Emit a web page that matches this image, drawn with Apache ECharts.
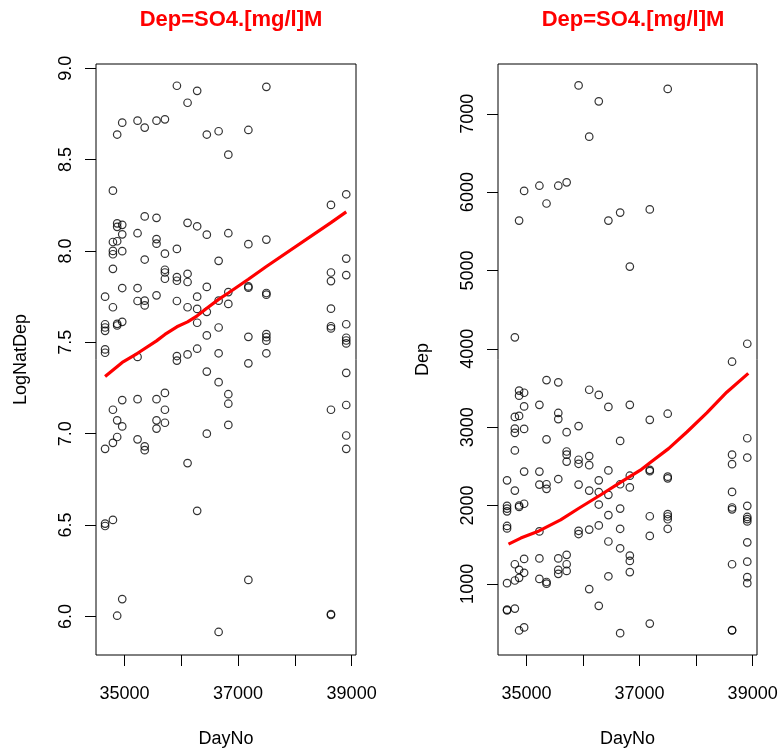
<!DOCTYPE html>
<html>
<head>
<meta charset="utf-8">
<script src="https://cdn.jsdelivr.net/npm/echarts@6/dist/echarts.min.js"></script>
<style>
  html, body { margin: 0; padding: 0; background: #fff; }
  #chart { width: 781px; height: 753px; }
</style>
</head>
<body>
<div id="chart"></div>
<script>
// sampling days (one column of points per day)
const sampleDays = [34657, 34795, 34870, 34959, 35229, 35355, 35563, 35711, 35922,
  36110, 36279, 36449, 36657, 36828, 37181, 37498, 38636, 38905]

// LogNatDep readings, one list per sampling day
const logDepByDay = [
  [7.750, 7.599, 7.581, 7.563, 7.461, 7.443, 6.917, 6.508, 6.495],
  [8.330, 8.049, 8.000, 7.982, 7.902, 7.692, 7.131, 6.950, 6.528],
  [8.637, 8.151, 8.132, 8.053, 7.601, 7.592, 7.073, 6.982, 6.004],
  [8.702, 8.143, 8.091, 7.999, 7.797, 7.612, 7.184, 7.040, 6.095],
  [8.713, 8.097, 7.797, 7.726, 7.420, 7.189, 6.969],
  [8.675, 8.189, 7.953, 7.728, 7.702, 6.931, 6.910],
  [8.713, 8.181, 8.065, 8.040, 7.757, 7.189, 7.073, 7.028],
  [8.720, 7.985, 7.897, 7.882, 7.848, 7.223, 7.131, 7.060],
  [8.904, 8.011, 7.857, 7.837, 7.726, 7.425, 7.400],
  [8.811, 8.154, 7.875, 7.830, 7.692, 7.434, 6.839],
  [8.876, 8.135, 7.750, 7.683, 7.607, 7.465, 6.578],
  [8.637, 8.089, 7.803, 7.667, 7.538, 7.340, 7.000],
  [8.655, 7.946, 7.728, 7.581, 7.440, 7.282, 5.915],
  [8.527, 8.097, 7.775, 7.710, 7.216, 7.164, 7.048],
  [8.662, 8.037, 7.806, 7.799, 7.530, 7.385, 6.200],
  [8.898, 8.062, 7.770, 7.761, 7.545, 7.528, 7.509, 7.440],
  [8.252, 7.882, 7.835, 7.684, 7.588, 7.576, 7.131, 6.013, 6.008],
  [8.310, 7.958, 7.868, 7.599, 7.525, 7.510, 7.494, 7.333, 7.157, 6.990, 6.917]
]

// red smoother, left panel
const smoothLogDays = [34657, 34959, 35229, 35563, 35711, 35922, 36110, 36279, 36449,
  36657, 36828, 37181, 37498, 38636, 38905]
const smoothLog = [7.313, 7.390, 7.440, 7.508, 7.543, 7.585, 7.612, 7.645, 7.686,
  7.735, 7.770, 7.845, 7.915, 8.155, 8.214]

// red smoother, right panel
const smoothDepDays = [34683, 34900, 35222, 35604, 35927, 36309, 36662, 37014, 37190,
  37513, 37837, 38189, 38542, 38923]
const smoothDep = [1507, 1584, 1676, 1816, 1965, 2134, 2295, 2451, 2549,
  2726, 2938, 3183, 3446, 3687]

const dayTicks = [35000, 36000, 37000, 38000, 39000]
const dayLabels = [35000, 37000, 39000]
const logTicks = [6.0, 6.5, 7.0, 7.5, 8.0, 8.5, 9.0]
const depTicks = [1000, 2000, 3000, 4000, 5000, 6000, 7000]

const titleText = 'Dep=SO4.[mg/l]M'
const font = 'Liberation Sans, Arial, Helvetica, sans-serif'

// LogNatDep = ln(Dep), so the right panel shows the same samples back-transformed
const logPoints = []
const depPoints = []
sampleDays.forEach((d, i) => {
  logDepByDay[i].forEach(v => {
    logPoints.push([d, v])
    depPoints.push([d, Math.exp(v)])
  })
})

const xAxisBase = (gridIndex) => ({
  type: 'value',
  gridIndex: gridIndex,
  min: 34497,
  max: 39077,
  name: 'DayNo',
  nameLocation: 'middle',
  nameGap: 75,
  nameTextStyle: { fontFamily: font, fontSize: 18, color: '#000' },
  axisLine: { show: false },
  axisTick: { show: true, length: 11, inside: false, customValues: dayTicks,
    lineStyle: { color: '#000', width: 1 } },
  axisLabel: { customValues: dayLabels, margin: 30, fontFamily: font, fontSize: 18,
    color: '#000', formatter: (v) => String(v) },
  splitLine: { show: false }
})

const yAxisBase = (gridIndex, name, min, max, ticks, fmt) => ({
  type: 'value',
  gridIndex: gridIndex,
  min: min,
  max: max,
  name: name,
  nameLocation: 'middle',
  nameGap: 66,
  nameTextStyle: { fontFamily: font, fontSize: 18, color: '#000' },
  axisLine: { show: false },
  axisTick: { show: true, length: 11, inside: false, customValues: ticks,
    lineStyle: { color: '#000', width: 1 } },
  axisLabel: { customValues: ticks, rotate: 90, margin: 21, fontFamily: font, fontSize: 18,
    color: '#000', formatter: fmt },
  splitLine: { show: false }
})

const pointStyle = {
  symbol: 'circle',
  symbolSize: 7.5,
  itemStyle: { color: 'rgba(0,0,0,0)', borderColor: '#000', borderWidth: 1.2 }
}

const option = {
  animation: false,
  backgroundColor: '#fff',
  title: [
    { text: titleText, left: 226, top: 4, textAlign: 'center',
      textStyle: { fontFamily: font, fontSize: 22, fontWeight: 'bold', color: '#ff0000' } },
    { text: titleText, left: 628, top: 4, textAlign: 'center',
      textStyle: { fontFamily: font, fontSize: 22, fontWeight: 'bold', color: '#ff0000' } }
  ],
  grid: [
    { left: 96, top: 64, width: 260, height: 594, show: true, borderColor: '#000', borderWidth: 1 },
    { left: 498, top: 64, width: 259, height: 593, show: true, borderColor: '#000', borderWidth: 1 }
  ],
  xAxis: [xAxisBase(0), xAxisBase(1)],
  yAxis: [
    yAxisBase(0, 'LogNatDep', 5.789, 9.023, logTicks, (v) => v.toFixed(1)),
    yAxisBase(1, 'Dep', 92, 7635, depTicks, (v) => String(v))
  ],
  series: [
    { type: 'scatter', xAxisIndex: 0, yAxisIndex: 0, data: logPoints, ...pointStyle },
    { type: 'line', xAxisIndex: 0, yAxisIndex: 0, z: 5, showSymbol: false,
      data: smoothLogDays.map((d, i) => [d, smoothLog[i]]),
      lineStyle: { color: '#ff0000', width: 3.2 } },
    { type: 'scatter', xAxisIndex: 1, yAxisIndex: 1, data: depPoints, ...pointStyle },
    { type: 'line', xAxisIndex: 1, yAxisIndex: 1, z: 5, showSymbol: false,
      data: smoothDepDays.map((d, i) => [d, smoothDep[i]]),
      lineStyle: { color: '#ff0000', width: 3.2 } }
  ]
}

const chart = echarts.init(document.getElementById('chart'), null, { renderer: 'canvas' })
chart.setOption(option)
</script>
</body>
</html>
